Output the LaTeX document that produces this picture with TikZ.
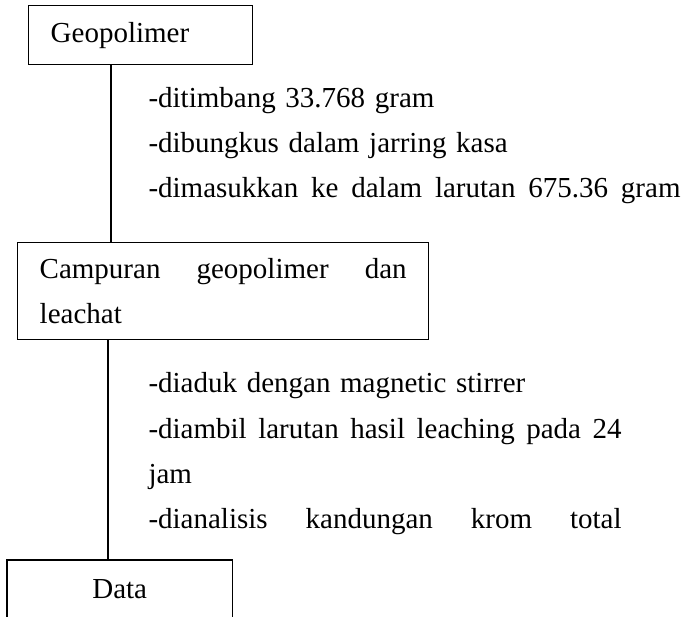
\documentclass[tikz,border=0pt]{standalone}
\usepackage{fontspec}
\setmainfont{Liberation Serif}

\begin{document}
\begin{tikzpicture}[
        x=0.4pt, y=-0.4pt,
        font=\fontsize{11.6pt}{18pt}\selectfont,
        box/.style={rectangle, draw, line width=0.55pt, anchor=north west, inner xsep=8.8pt, inner ysep=0pt, align=left},
        steps/.style={anchor=base west, inner sep=0pt, align=left},
    ]
    \useasboundingbox (0,0) rectangle (691,617);

    \node[box, minimum width=89.6pt, minimum height=23.6pt, text width=72pt](geo) at (28,5) {Geopolimer};
    \node[box, minimum width=164.4pt, minimum height=38.8pt, text width=146.8pt](campur) at (17,242) {Campuran\hfill geopolimer\hfill dan\\leachat};
    % open at the bottom
    \node[box, draw=none, align=center, minimum width=89.6pt, minimum height=22.8pt, text width=72pt](data) at (7,560) {Data};
    \draw[line width=0.55pt] (data.south west) -- (data.north west) -- (data.north east) -- (data.south east);

    \node[steps, text width=212.8pt](geosteps) at (148,108) {-ditimbang 33.768 gram\\-dibungkus dalam jarring kasa\\-dimasukkan\hfill ke\hfill dalam\hfill larutan\hfill 675.36\hfill gram};
    \node[steps, text width=189.2pt](campursteps) at (148,393) {-diaduk dengan magnetic stirrer\\-diambil\hfill larutan\hfill hasil\hfill leaching\hfill pada\hfill 24\\jam\\-dianalisis\hfill kandungan\hfill krom\hfill total};

    \draw[line width=0.55pt] (geo.south west) ++(83,0) coordinate (geoline) -- (geoline |- campur.north);
    \draw[line width=0.55pt] (campur.south west) ++(91,0) coordinate (campurline) -- (campurline |- data.north);
\end{tikzpicture}
\end{document}
